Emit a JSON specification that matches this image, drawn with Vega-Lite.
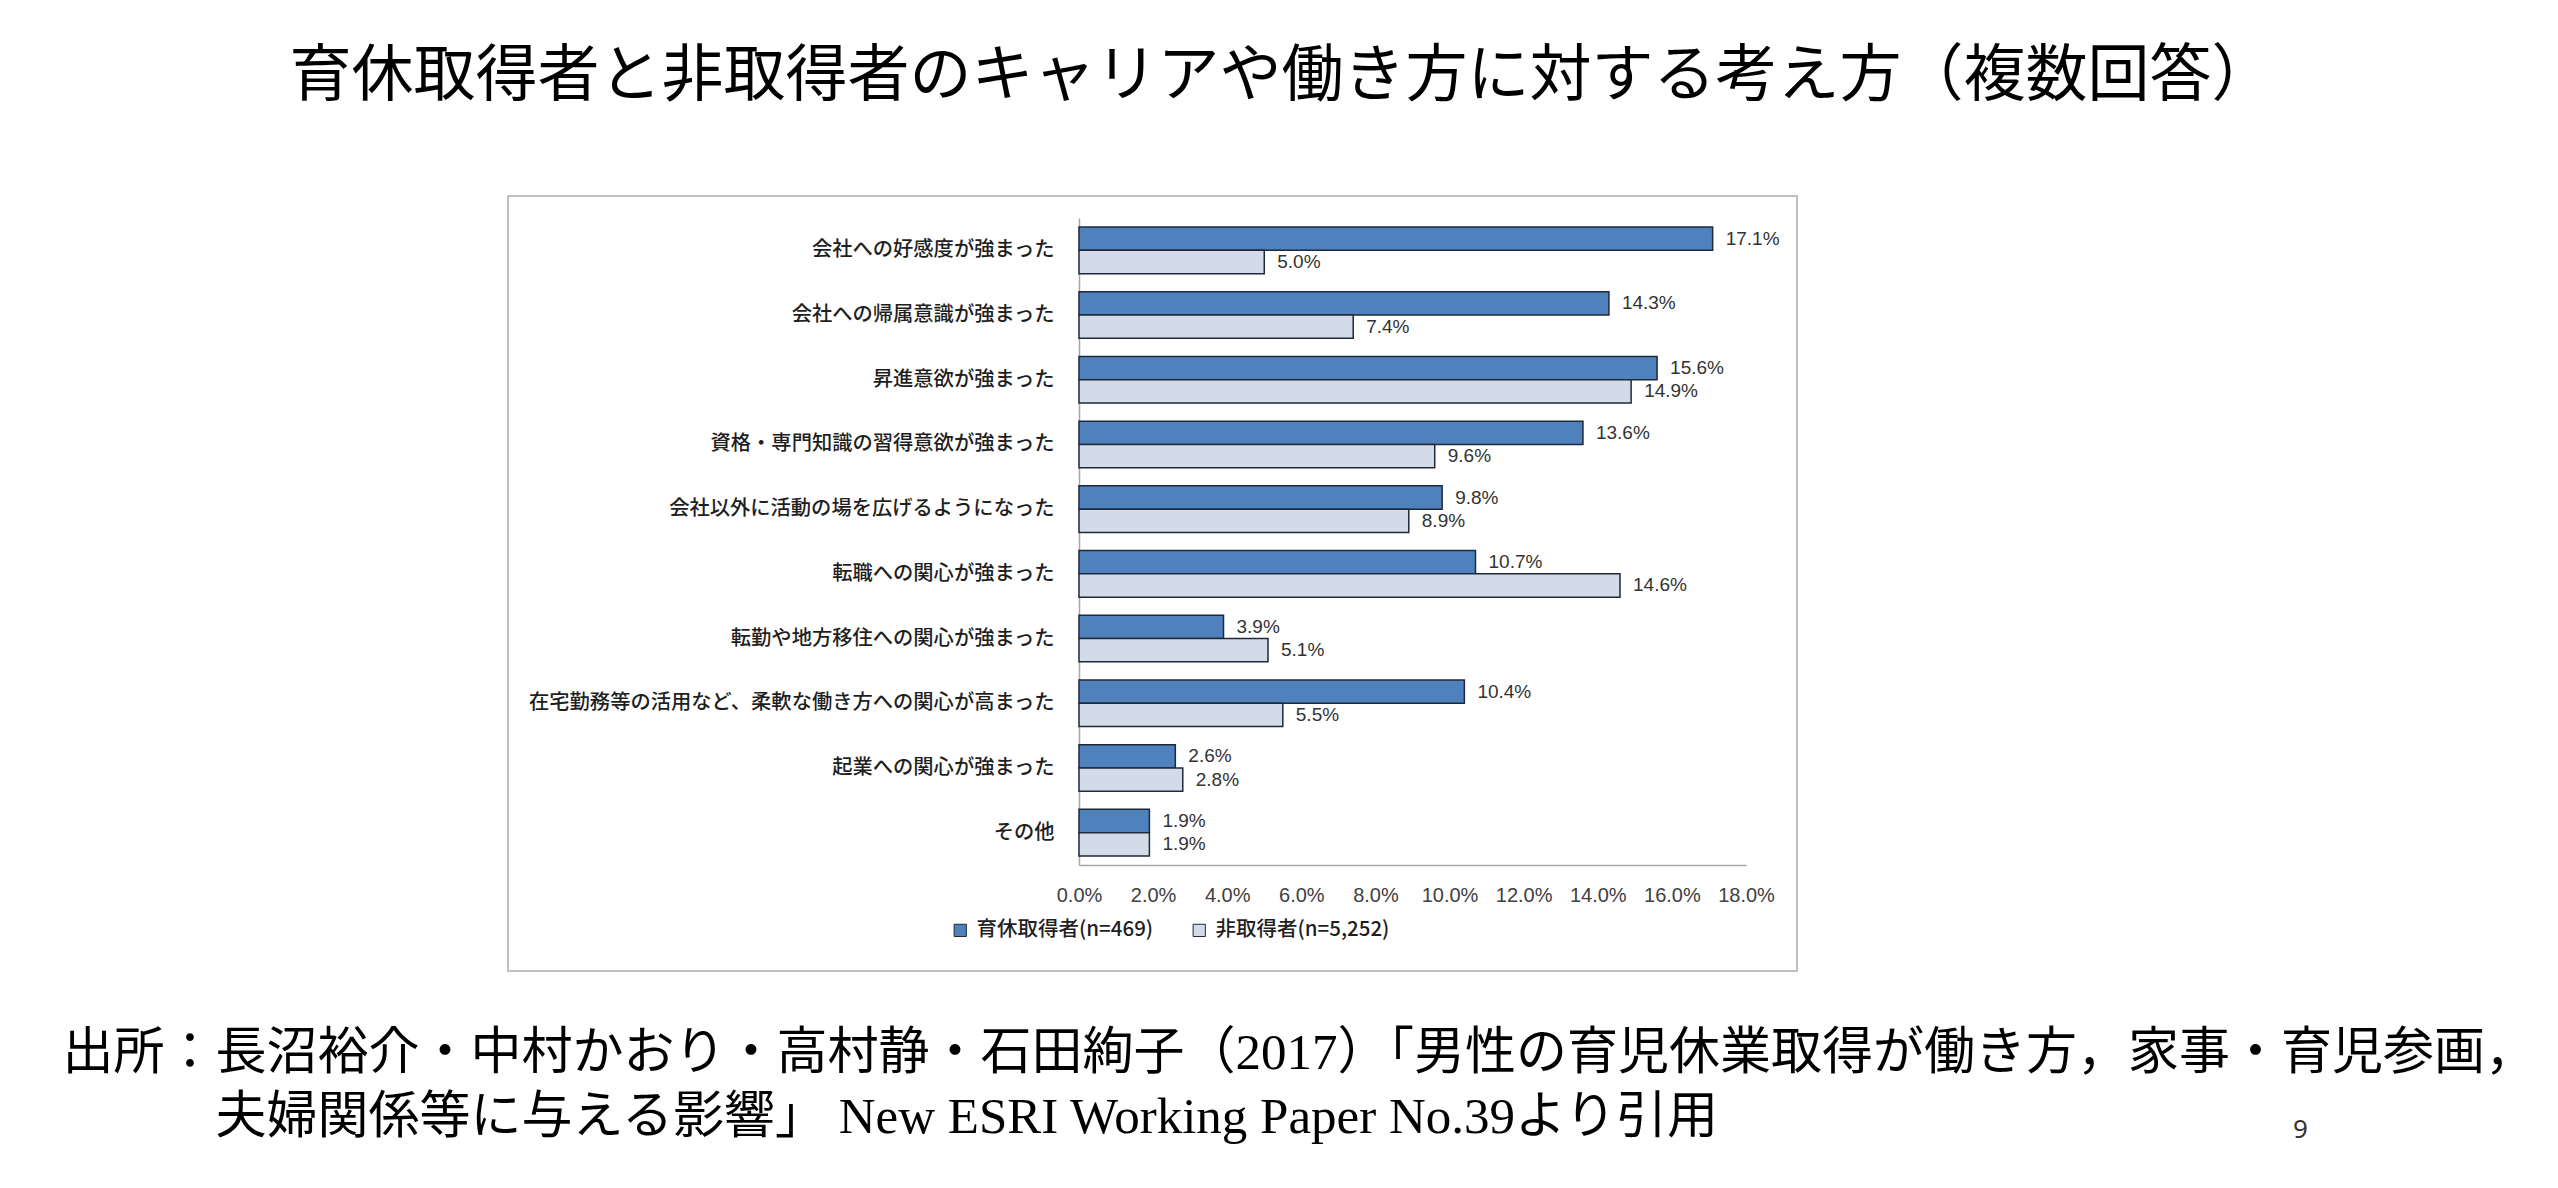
{
  "$schema": "https://vega.github.io/schema/vega-lite/v6.json",
  "width": 1289,
  "height": 775,
  "autosize": {"type": "none"},
  "padding": {"left": 508, "top": 196, "right": 761, "bottom": 217},
  "background": "#ffffff",
  "title": {
    "text": "育休取得者と非取得者のキャリアや働き方に対する考え方（複数回答）",
    "anchor": "middle",
    "frame": "group",
    "dx": 129,
    "offset": 87,
    "font": "Noto Sans CJK JP",
    "fontSize": 62,
    "fontWeight": "normal",
    "color": "#000000"
  },
  "config": {
    "view": {"stroke": "#c0c0c0", "strokeWidth": 2, "fill": "#ffffff"}
  },
  "data": {
    "values": [
      {"category": "会社への好感度が強まった", "series": "育休取得者(n=469)", "value": 0.171},
      {"category": "会社への好感度が強まった", "series": "非取得者(n=5,252)", "value": 0.050},
      {"category": "会社への帰属意識が強まった", "series": "育休取得者(n=469)", "value": 0.143},
      {"category": "会社への帰属意識が強まった", "series": "非取得者(n=5,252)", "value": 0.074},
      {"category": "昇進意欲が強まった", "series": "育休取得者(n=469)", "value": 0.156},
      {"category": "昇進意欲が強まった", "series": "非取得者(n=5,252)", "value": 0.149},
      {"category": "資格・専門知識の習得意欲が強まった", "series": "育休取得者(n=469)", "value": 0.136},
      {"category": "資格・専門知識の習得意欲が強まった", "series": "非取得者(n=5,252)", "value": 0.096},
      {"category": "会社以外に活動の場を広げるようになった", "series": "育休取得者(n=469)", "value": 0.098},
      {"category": "会社以外に活動の場を広げるようになった", "series": "非取得者(n=5,252)", "value": 0.089},
      {"category": "転職への関心が強まった", "series": "育休取得者(n=469)", "value": 0.107},
      {"category": "転職への関心が強まった", "series": "非取得者(n=5,252)", "value": 0.146},
      {"category": "転勤や地方移住への関心が強まった", "series": "育休取得者(n=469)", "value": 0.039},
      {"category": "転勤や地方移住への関心が強まった", "series": "非取得者(n=5,252)", "value": 0.051},
      {"category": "在宅勤務等の活用など、柔軟な働き方への関心が高まった", "series": "育休取得者(n=469)", "value": 0.104},
      {"category": "在宅勤務等の活用など、柔軟な働き方への関心が高まった", "series": "非取得者(n=5,252)", "value": 0.055},
      {"category": "起業への関心が強まった", "series": "育休取得者(n=469)", "value": 0.026},
      {"category": "起業への関心が強まった", "series": "非取得者(n=5,252)", "value": 0.028},
      {"category": "その他", "series": "育休取得者(n=469)", "value": 0.019},
      {"category": "その他", "series": "非取得者(n=5,252)", "value": 0.019}
    ]
  },
  "encoding": {
    "y": {
      "field": "category",
      "type": "nominal",
      "sort": null,
      "scale": {"range": [22, 669], "paddingInner": 0.28, "paddingOuter": 0.14},
      "axis": {
        "orient": "left",
        "offset": -571,
        "ticks": false,
        "grid": false,
        "domainColor": "#a6a6a6",
        "domainWidth": 1.5,
        "labelFont": "Noto Sans CJK JP",
        "labelFontSize": 20.3,
        "labelFontWeight": 500,
        "labelColor": "#1f1f1f",
        "labelPadding": 25,
        "labelLimit": 0,
        "title": "9",
        "titleAngle": 0,
        "titleX": 1221,
        "titleY": 941,
        "titleAlign": "center",
        "titleBaseline": "alphabetic",
        "titleFont": "Noto Sans",
        "titleFontSize": 26,
        "titleFontWeight": "normal",
        "titleColor": "#333333"
      }
    },
    "yOffset": {
      "field": "series",
      "type": "nominal",
      "sort": ["育休取得者(n=469)", "非取得者(n=5,252)"],
      "scale": {"paddingInner": 0, "paddingOuter": 0}
    },
    "x": {
      "field": "value",
      "type": "quantitative",
      "scale": {"domain": [0, 0.18], "range": [571, 1238], "nice": false, "zero": true},
      "axis": {
        "orient": "bottom",
        "offset": -106,
        "values": [0, 0.02, 0.04, 0.06, 0.08, 0.10, 0.12, 0.14, 0.16, 0.18],
        "format": ".1%",
        "ticks": false,
        "grid": false,
        "domainColor": "#a6a6a6",
        "domainWidth": 1.5,
        "labelFont": "Liberation Sans Narrow, Liberation Sans, sans-serif",
        "labelFontSize": 20,
        "labelColor": "#404040",
        "labelBaseline": "middle",
        "labelPadding": 30,
        "labelFlush": false,
        "labelOverlap": false,
        "title": ["出所：長沼裕介・中村かおり・高村静・石田絢子（2017）「男性の育児休業取得が働き方，家事・育児参画，", "\u200b\u3000\u3000\u3000夫婦関係等に与える影響」 New ESRI Working Paper No.39より引用"],
        "titleX": -446,
        "titleY": 203,
        "titleAlign": "left",
        "titleAnchor": "start",
        "titleBaseline": "alphabetic",
        "titleAngle": 0,
        "titleFont": "Liberation Serif, Noto Sans CJK JP",
        "titleFontSize": 51,
        "titleFontWeight": "normal",
        "titleColor": "#000000",
        "titleLineHeight": 64,
        "titleLimit": 0
      }
    }
  },
  "layer": [
    {
      "mark": {"type": "bar", "stroke": "#1e2a3a", "strokeWidth": 1.5},
      "encoding": {
        "color": {
          "field": "series",
          "type": "nominal",
          "sort": ["育休取得者(n=469)", "非取得者(n=5,252)"],
          "scale": {"domain": ["育休取得者(n=469)", "非取得者(n=5,252)"], "range": ["#4f81bd", "#d3dbe8"]},
          "legend": {
            "orient": "none",
            "legendX": 442,
            "legendY": 724,
            "direction": "horizontal",
            "title": null,
            "labelFont": "Noto Sans CJK JP",
            "labelFontSize": 20.5,
            "labelFontWeight": 500,
            "labelColor": "#1f1f1f",
            "labelLimit": 0,
            "symbolType": "square",
            "symbolSize": 150,
            "symbolStrokeColor": "#1e2a3a",
            "symbolStrokeWidth": 1,
            "labelOffset": 6,
            "columnPadding": 35,
            "padding": 0
          }
        }
      }
    },
    {
      "mark": {
        "type": "text",
        "align": "left",
        "baseline": "middle",
        "dx": 13,
        "font": "Liberation Sans Narrow, Liberation Sans, sans-serif",
        "fontSize": 19,
        "color": "#333333"
      },
      "encoding": {
        "text": {"field": "value", "type": "quantitative", "format": ".1%"}
      }
    }
  ]
}
